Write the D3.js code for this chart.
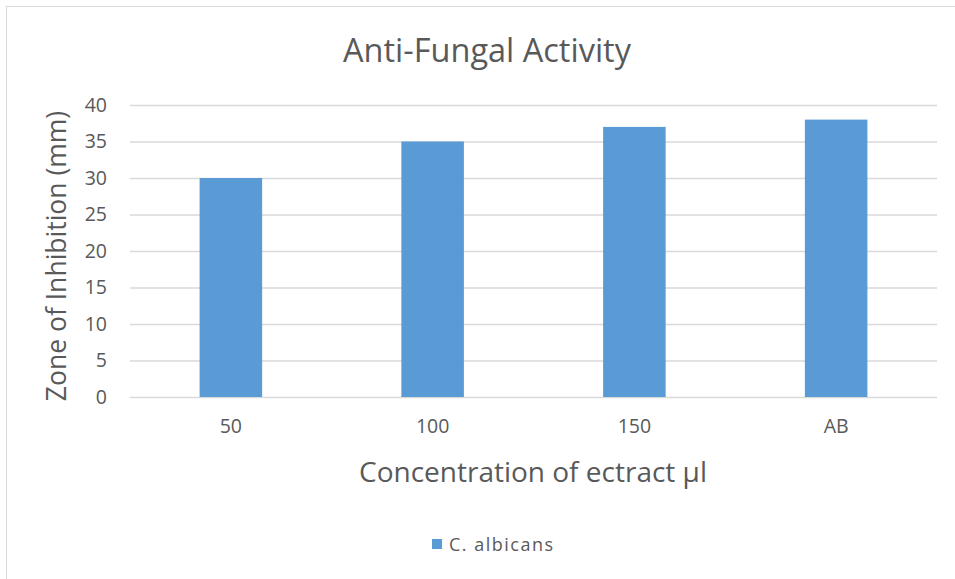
<!DOCTYPE html>
<html><head><meta charset="utf-8">
<script src="https://cdn.jsdelivr.net/npm/d3@7"></script>
<style>body{margin:0;background:#fff;} text{font-family:"Open Sans","Noto Sans",sans-serif;fill:#595959;}</style>
</head><body><svg id="c" width="955" height="579"></svg>
<script>
const categories = ["50", "100", "150", "AB"];
const values = [30, 35, 37, 38];
const yTicks = [0, 5, 10, 15, 20, 25, 30, 35, 40];
const seriesName = "C. albicans";

const svg = d3.select("#c");
svg.append("rect").attr("x", 6.5).attr("y", 6.5).attr("width", 1000).attr("height", 1000)
  .attr("fill", "#fff").attr("stroke", "#d9d9d9");

const m = {l: 130, r: 937, t: 105, b: 397};
const x = d3.scaleBand().domain(categories).range([m.l, m.r]).paddingInner(0.69).paddingOuter(0.345);
const y = d3.scaleLinear().domain([0, 40]).range([m.b, m.t]);

svg.append("g").selectAll("line").data(yTicks).join("line")
  .attr("x1", m.l).attr("x2", m.r).attr("y1", d => y(d) + 0.5).attr("y2", d => y(d) + 0.5)
  .attr("stroke", "#d9d9d9").attr("stroke-width", 1.3);

svg.append("g").selectAll("rect").data(values).join("rect")
  .attr("x", (d, i) => x(categories[i])).attr("width", x.bandwidth())
  .attr("y", d => y(d)).attr("height", d => y(0) - y(d))
  .attr("fill", "#5B9BD5");

const yAxis = d3.axisLeft(y).tickValues(yTicks).tickSize(0).tickPadding(0);
const gy = svg.append("g").attr("transform", `translate(107,0)`).call(yAxis);
gy.select(".domain").remove();
gy.selectAll("text").attr("font-size", 19.5).style("fill", "#595959").style("font-family", "Open Sans");

const xAxis = d3.axisBottom(x).tickSize(0).tickPadding(0);
const gx = svg.append("g").attr("transform", `translate(0,${m.b + 22})`).call(xAxis);
gx.select(".domain").remove();
gx.selectAll("text").attr("font-size", 19.5).style("fill", "#595959").style("font-family", "Open Sans");

svg.append("text").attr("x", 487).attr("y", 62).attr("text-anchor", "middle")
  .attr("font-size", 32.5).text("Anti-Fungal Activity");

svg.append("text").attr("transform", "translate(66,256) rotate(-90)").attr("text-anchor", "middle")
  .attr("font-size", 26.5).text("Zone of Inhibition (mm)");

svg.append("text").attr("x", 533).attr("y", 482).attr("text-anchor", "middle")
  .attr("font-size", 28).text("Concentration of ectract µl");

svg.append("rect").attr("x", 432).attr("y", 539).attr("width", 10).attr("height", 10).attr("fill", "#5B9BD5");
svg.append("text").attr("x", 449).attr("y", 551).attr("font-size", 18).attr("letter-spacing", 1.5).text(seriesName);
</script></body></html>
